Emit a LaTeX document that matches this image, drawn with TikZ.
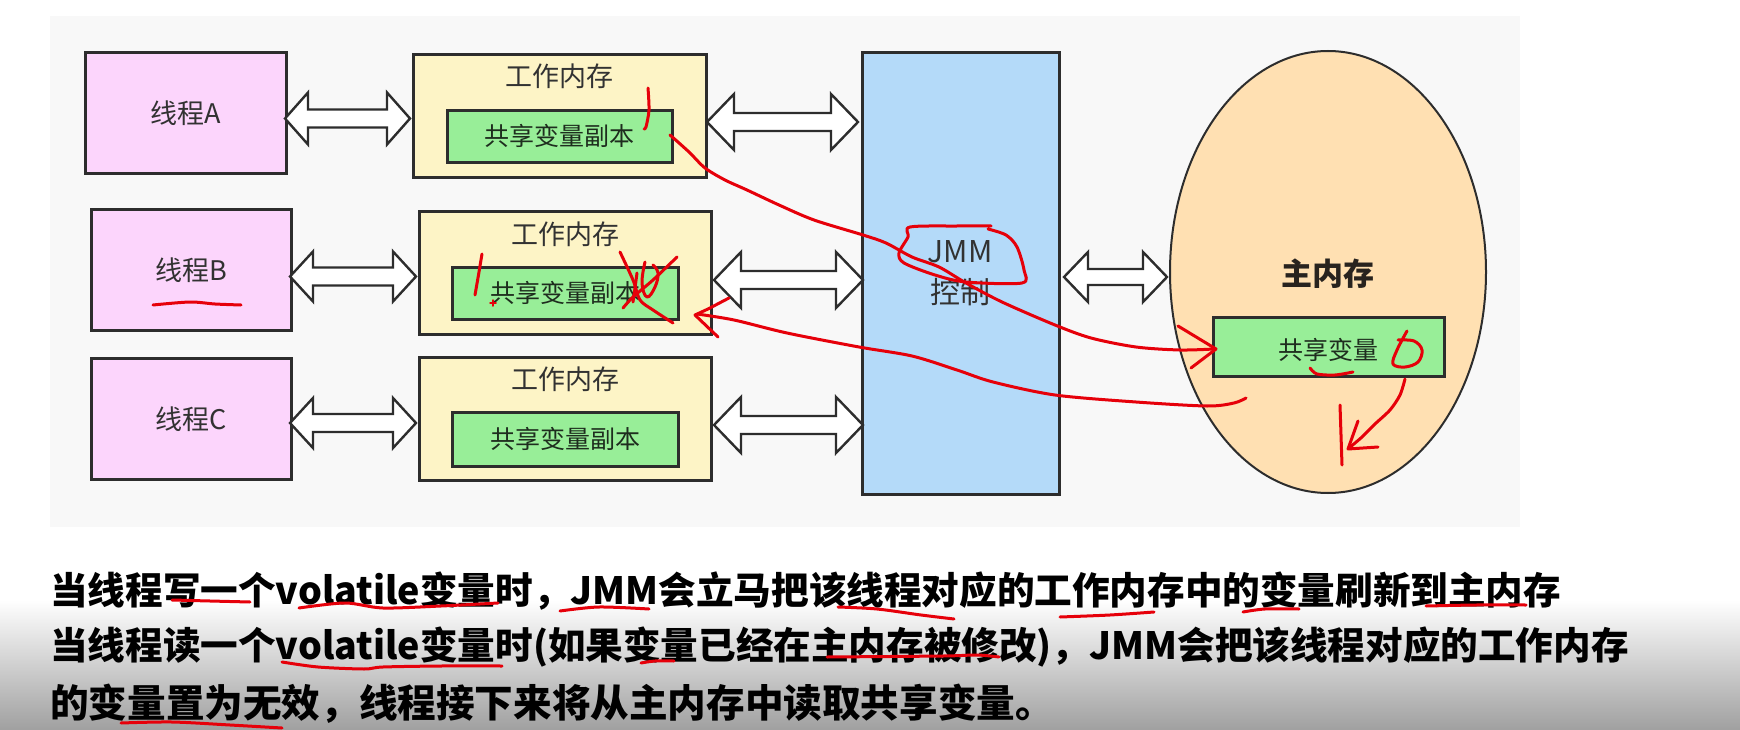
\documentclass[tikz,border=0pt]{standalone}
\usepackage{fontspec}
\setmainfont{Noto Sans CJK SC}
\usetikzlibrary{shapes.geometric}
\definecolor{panelc}{RGB}{248,248,248}
\definecolor{bordc}{RGB}{45,45,45}
\definecolor{txtc}{RGB}{50,50,50}
\definecolor{pinkc}{RGB}{252,213,252}
\definecolor{yellc}{RGB}{253,244,198}
\definecolor{greenc}{RGB}{152,238,152}
\definecolor{bluec}{RGB}{180,218,249}
\definecolor{peachc}{RGB}{255,224,178}
\definecolor{penred}{RGB}{230,0,10}
\definecolor{shadec}{RGB}{160,160,160}
\newcommand\dblarr[6]{\draw[blockarr] ({#1},{#3}) -- ({#1+#6},{#3-#4}) -- ({#1+#6},{#3-#5}) -- ({#2-#6},{#3-#5}) -- ({#2-#6},{#3-#4}) -- ({#2},{#3}) -- ({#2-#6},{#3+#4}) -- ({#2-#6},{#3+#5}) -- ({#1+#6},{#3+#5}) -- ({#1+#6},{#3+#4}) -- cycle;}
\tikzset{
  box/.style={draw=bordc, line width=2.6pt, inner sep=0pt, text=txtc, anchor=north west},
  thread/.style={box, fill=pinkc, font=\fontsize{27}{32}\selectfont},
  workmem/.style={box, fill=yellc},
  copybox/.style={box, fill=greenc, font=\fontsize{25}{30}\selectfont, text={rgb,255:red,30;green,45;blue,30}},
  wlabel/.style={inner sep=0pt, text=txtc, font=\fontsize{27}{32}\selectfont},
  blockarr/.style={draw=bordc, fill=white, line width=2.4pt, line join=miter},
  pen/.style={draw=penred, line width=3pt, line cap=round, line join=round},
  bottomtext/.style={anchor=base west, inner sep=0pt, font=\bfseries\fontsize{37.6}{44}\selectfont, text=black},
}
\begin{document}
\begin{tikzpicture}[x=1pt,y=-1pt]
\useasboundingbox (0,0) rectangle (1740,730);
\fill[white] (0,0) rectangle (1740,730);
\shade[top color=white, bottom color=shadec] (0,600) rectangle (1740,730);
\fill[panelc] (50,16) rectangle (1520,527);

% threads
\node[thread, minimum width=201pt, minimum height=121pt] (tA) at (84,51) {线程A};
\node[thread, minimum width=200pt, minimum height=121pt] (tB) at (90,208) {线程B};
\node[thread, minimum width=200pt, minimum height=121pt] (tC) at (90,357) {线程C};

% working memories
\node[workmem, minimum width=293pt, minimum height=123pt] (wA) at (412,53) {};
\node[workmem, minimum width=292pt, minimum height=123pt] (wB) at (418,210) {};
\node[workmem, minimum width=292pt, minimum height=123pt] (wC) at (418,356) {};
\node[wlabel] (wAl) at (559,76) {工作内存};
\node[wlabel] (wBl) at (565,234) {工作内存};
\node[wlabel] (wCl) at (565,379) {工作内存};
\node[copybox, minimum width=225pt, minimum height=52pt] (cA) at (446,109) {共享变量副本};
\node[copybox, minimum width=226pt, minimum height=52pt] (cB) at (451,266) {共享变量副本};
\node[copybox, minimum width=226pt, minimum height=54pt] (cC) at (451,411) {共享变量副本};

% JMM
\node[box, fill=bluec, minimum width=197pt, minimum height=442pt] (jmm) at (861,51) {};
\node[inner sep=0pt, text=txtc, font=\fontsize{30}{41}\selectfont, align=center] (jmmt) at (960,273) {JMM\\控制};

% main memory
\node[ellipse, draw=bordc, line width=2pt, fill=peachc, minimum width=316pt, minimum height=442pt, inner sep=0pt] (mm) at (1328,272) {};
\node[inner sep=0pt, text={rgb,255:red,40;green,35;blue,30}, font=\bfseries\fontsize{31}{36}\selectfont] (mmt) at (1328,274) {主内存};
\node[copybox, minimum width=231pt, minimum height=59pt] (mv) at (1212,316) {};
\node[inner sep=0pt, text={rgb,255:red,30;green,45;blue,30}, font=\fontsize{25}{30}\selectfont] (mvt) at (1328,350) {共享变量};

% double arrows
\dblarr{285}{410}{118.5}{26}{9}{23}
\dblarr{290}{416}{276.5}{25}{9}{23}
\dblarr{290}{416}{423}{25}{9}{23}
\dblarr{707}{858}{122}{28}{9}{27}
\dblarr{714}{863}{280}{28}{9}{27}
\dblarr{714}{863}{425}{28}{9}{27}
\dblarr{1064}{1167}{277}{25}{8}{24}

% red pen annotations
\draw[pen] plot[smooth, tension=0.5] coordinates {(670,135) (689,152) (705,168) (725,180) (747,190) (779,205) (814,220) (863,235) (886,243) (912,257) (939,267) (966,283) (1002,302) (1055,325) (1091,338) (1136,347) (1180,350) (1214,349)};
\draw[pen] (1178,326) -- (1216,349) -- (1191,368);
\draw[pen] plot[smooth, tension=0.5] coordinates {(1246,398) (1234,403) (1207,406) (1136,402) (1055,395) (993,382) (957,370) (912,356) (859,347) (787,333) (734,320) (697,314)};
\draw[pen] (729,298) -- (708,309) -- (695,315) -- (718,337);
\draw[pen] plot[smooth, tension=0.5] coordinates {(991,226) (957,226) (910,227) (908,237) (899,253) (904,263) (935,275) (966,282) (1022,283) (1024,270) (1017,247) (1006,235) (988,229)};
\draw[pen] plot[smooth] coordinates {(648,88) (649,110) (646,127) (644,129)};
\draw[pen] plot[smooth] coordinates {(482,254) (479,272) (475,295)};
\draw[pen, line width=1.5pt] (490,303) -- (496,303) (493,300) -- (493,306);
\draw[pen] plot[smooth] coordinates {(620,252) (633,280) (640,300) (653,310) (673,323)};
\draw[pen] plot[smooth] coordinates {(677,257) (653,280) (633,297) (623,308)};
\draw[pen] plot[smooth, tension=0.7] coordinates {(645,262) (642,283) (647,297) (655,287) (658,273) (653,265)};
\draw[pen] plot[smooth] coordinates {(637,273) (635,288) (633,302)};
\draw[pen] plot[smooth] coordinates {(153,305) (190,302) (215,304) (241,305)};
\draw[pen] plot[smooth] coordinates {(1310,368) (1317,374) (1335,375) (1353,372)};
\draw[pen] plot[smooth, tension=0.6] coordinates {(1407,331) (1397,350) (1393,364) (1405,367) (1418,362) (1422,350) (1414,341) (1398,340)};
\draw[pen] plot[smooth] coordinates {(1405,379) (1400,395) (1390,410) (1375,424) (1362,437) (1349,448)};
\draw[pen] (1358,421) -- (1348,449) -- (1378,447);
\draw[pen] (1340,405) -- (1342,465);

% bottom text
\node[bottomtext] (l1) at (50,604) {当线程写一个volatile变量时，JMM会立马把该线程对应的工作内存中的变量刷新到主内存};
\node[bottomtext] (l2) at (50,659) {当线程读一个volatile变量时(如果变量已经在主内存被修改)，JMM会把该线程对应的工作内存};
\node[bottomtext, font=\bfseries\fontsize{38.6}{44}\selectfont] (l3) at (50,717) {的变量置为无效，线程接下来将从主内存中读取共享变量。};

% underlines on bottom text
\draw[pen] plot[smooth] coordinates {(172,600) (210,601) (250,602)};
\draw[pen] plot[smooth] coordinates {(299,608) (345,603) (383,608) (441,606) (498,603)};
\draw[pen] plot[smooth] coordinates {(560,611) (599,607) (649,609)};
\draw[pen] plot[smooth] coordinates {(838,607) (877,609) (921,615) (954,619)};
\draw[pen] plot[smooth] coordinates {(1060,617) (1110,615) (1154,612)};
\draw[pen] plot[smooth] coordinates {(1243,612) (1265,609) (1299,609)};
\draw[pen] plot[smooth] coordinates {(1426,606) (1476,605) (1526,605)};
\draw[pen] plot[smooth] coordinates {(282,662) (318,667) (364,669) (383,667) (441,666) (502,666)};
\draw[pen] plot[smooth] coordinates {(641,663) (655,661) (674,661)};
\draw[pen] plot[smooth] coordinates {(827,657) (943,656) (977,655) (999,657)};
\draw[pen] plot[smooth] coordinates {(121,723) (172,722) (230,725) (282,728)};
\end{tikzpicture}
\end{document}
